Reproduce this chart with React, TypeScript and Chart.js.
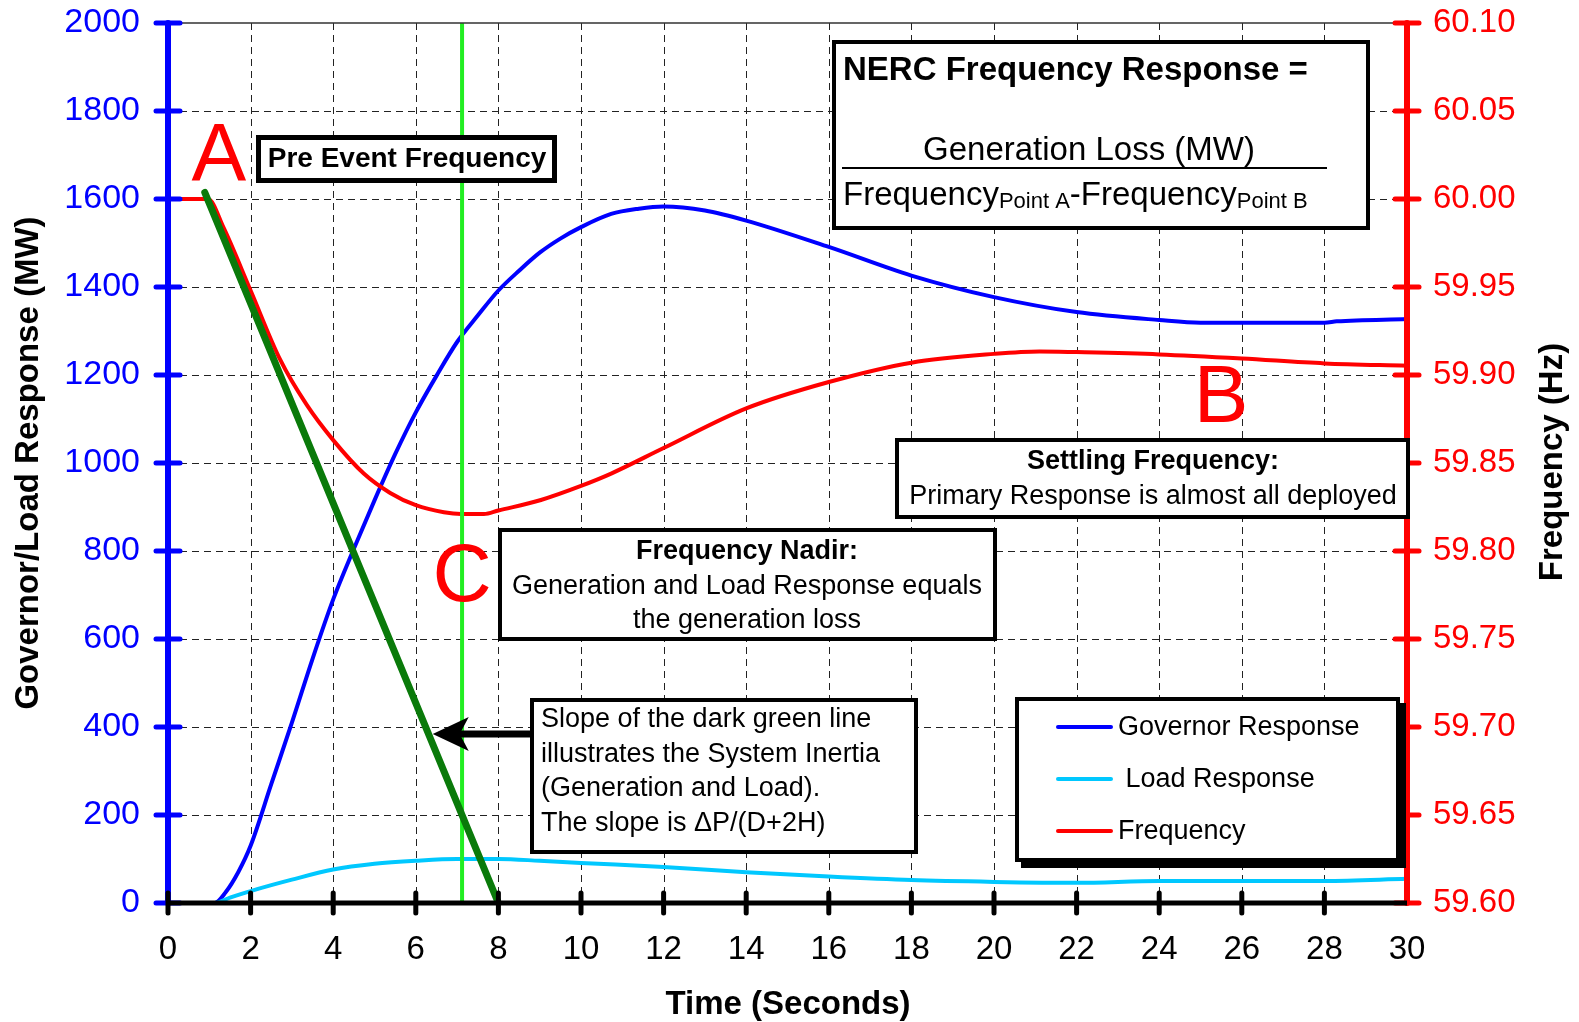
import React, { useEffect, useRef } from "react";
import { Chart, registerables } from "chart.js";
Chart.register(...registerables);

const FONT = "'Liberation Sans', Arial, Helvetica, sans-serif";

// ---- data ----
const govTime = [0, 1.13, 1.4, 1.7, 2.0, 2.5, 3.0, 3.5, 4.0, 4.5, 5.0, 5.5, 6.0, 6.5, 7.0, 7.5, 8.0, 8.5, 9.0, 9.5, 10.0, 10.73, 11.4, 12.0, 13.0, 14.0, 16.0, 18.0, 20.0, 22.0, 24.0, 25.0, 26.0, 28.0, 28.3, 30.0];
const govMW = [0, 0, 25, 70, 130, 270, 410, 555, 690, 805, 915, 1020, 1115, 1198, 1275, 1335, 1392, 1437, 1478, 1510, 1536, 1566, 1578, 1583, 1574, 1551, 1491, 1426, 1377, 1343, 1325, 1319, 1319, 1319, 1322, 1327];

const loadTime = [0, 1.13, 1.5, 2, 3, 4, 5, 6, 7, 8, 9, 10, 12, 14, 16, 18, 20, 22, 24, 26, 28, 30];
const loadMW = [0, 0, 12, 27, 53, 76, 89, 96, 100, 100, 96, 91, 82, 70, 60, 52, 48, 46, 50, 50, 50, 55];

const freqTime = [0, 0.97, 1.34, 2.0, 2.71, 3.36, 4.0, 4.74, 5.38, 6.0, 6.68, 7.1, 7.65, 8.0, 9.03, 10.0, 10.73, 12.0, 14.0, 16.0, 18.0, 20.0, 21.1, 22.0, 24.0, 26.0, 28.0, 30.0];
const freqHz = [60.0, 60.0, 59.984, 59.948, 59.909, 59.883, 59.863, 59.844, 59.833, 59.826, 59.822, 59.821, 59.821, 59.823, 59.829, 59.837, 59.844, 59.8585, 59.881, 59.896, 59.907, 59.912, 59.9134, 59.913, 59.9117, 59.9094, 59.9066, 59.9053];

const inertiaTime = [0.89, 8.0];
const inertiaMW = [1615, 0];

const eventTime = [7.12, 7.12];
const eventMW = [0, 2000];

const arrowTail = 8.79;
const arrowTip = 6.41;
const arrowLevel = 384;

const letterA = { t: 1.23, mw: 1643, s: "A" };
const letterB = { t: 25.5, mw: 1093, s: "B" };
const letterC = { t: 7.12, mw: 686, s: "C" };

const legendItems = [
  { label: "Governor Response", color: "#0000ff" },
  { label: " Load Response", color: "#00c8ff" },
  { label: "Frequency", color: "#ff0000" },
];

const pts = (xs: number[], ys: number[]) => xs.map((x, i) => ({ x, y: ys[i] }));

function font(size: number, bold = false) {
  return `${bold ? "bold " : ""}${size}px ${FONT}`;
}

function text(ctx: CanvasRenderingContext2D, s: string, x: number, y: number, size: number, opts: any = {}) {
  ctx.save();
  ctx.font = font(size, !!opts.bold);
  ctx.fillStyle = opts.color || "#000";
  ctx.textAlign = opts.align || "left";
  ctx.textBaseline = opts.baseline || "middle";
  ctx.fillText(s, x, y);
  ctx.restore();
}

function box(ctx: CanvasRenderingContext2D, x1: number, y1: number, x2: number, y2: number, lw: number, shadow = 0) {
  ctx.save();
  if (shadow) {
    ctx.fillStyle = "#000";
    ctx.fillRect(x1 + shadow, y1 + shadow, x2 - x1, y2 - y1);
  }
  ctx.fillStyle = "#fff";
  ctx.fillRect(x1, y1, x2 - x1, y2 - y1);
  ctx.strokeStyle = "#000";
  ctx.lineWidth = lw;
  ctx.strokeRect(x1 + lw / 2, y1 + lw / 2, x2 - x1 - lw, y2 - y1 - lw);
  ctx.restore();
}

const overlay = {
  id: "overlay",
  beforeDatasetsDraw(chart: any) {
    const { ctx, chartArea: a, scales } = chart;
    const xs = scales.x, ys = scales.y;
    ctx.save();
    ctx.strokeStyle = "#222";
    ctx.lineWidth = 1;
    ctx.setLineDash([7, 5]);
    xs.ticks.forEach((t: any) => {
      if (t.value <= xs.min || t.value >= xs.max) return;
      const px = Math.round(xs.getPixelForValue(t.value)) + 0.5;
      ctx.beginPath();
      ctx.moveTo(px, a.top);
      ctx.lineTo(px, a.bottom);
      ctx.stroke();
    });
    ys.ticks.forEach((t: any) => {
      if (t.value <= ys.min || t.value >= ys.max) return;
      const py = Math.round(ys.getPixelForValue(t.value)) + 0.5;
      ctx.beginPath();
      ctx.moveTo(a.left, py);
      ctx.lineTo(a.right, py);
      ctx.stroke();
    });
    ctx.restore();
  },
  afterDatasetsDraw(chart: any) {
    const { ctx, chartArea: a, scales } = chart;
    const xs = scales.x, ys = scales.y, y2 = scales.y2;
    ctx.save();
    ctx.lineCap = "round";
    // top border
    ctx.strokeStyle = "#333";
    ctx.lineWidth = 1.5;
    ctx.beginPath();
    ctx.moveTo(a.left, a.top);
    ctx.lineTo(a.right, a.top);
    ctx.stroke();
    // left axis
    ctx.strokeStyle = "#0000ff";
    ctx.lineWidth = 6;
    ctx.beginPath();
    ctx.moveTo(a.left, a.top);
    ctx.lineTo(a.left, a.bottom);
    ctx.stroke();
    ctx.lineWidth = 5;
    ys.ticks.forEach((t: any) => {
      const py = ys.getPixelForValue(t.value);
      ctx.beginPath();
      ctx.moveTo(a.left - 12, py);
      ctx.lineTo(a.left + 12, py);
      ctx.stroke();
    });
    // right axis
    ctx.strokeStyle = "#ff0000";
    ctx.lineWidth = 6;
    ctx.beginPath();
    ctx.moveTo(a.right, a.top);
    ctx.lineTo(a.right, a.bottom);
    ctx.stroke();
    ctx.lineWidth = 5;
    y2.ticks.forEach((t: any) => {
      const py = y2.getPixelForValue(t.value);
      ctx.beginPath();
      ctx.moveTo(a.right - 12, py);
      ctx.lineTo(a.right + 12, py);
      ctx.stroke();
    });
    // bottom axis
    ctx.strokeStyle = "#000";
    ctx.lineWidth = 5;
    ctx.lineCap = "butt";
    ctx.beginPath();
    ctx.moveTo(a.left, a.bottom);
    ctx.lineTo(a.right, a.bottom);
    ctx.stroke();
    ctx.lineCap = "round";
    ctx.lineWidth = 5;
    xs.ticks.forEach((t: any) => {
      const px = xs.getPixelForValue(t.value);
      if (t.value >= xs.max) return;
      ctx.beginPath();
      ctx.moveTo(px, a.bottom - 10);
      ctx.lineTo(px, a.bottom + 10);
      ctx.stroke();
    });
    ctx.restore();

    // arrow
    const ay = ys.getPixelForValue(arrowLevel);
    const tipX = xs.getPixelForValue(arrowTip);
    const tailX = xs.getPixelForValue(arrowTail);
    ctx.save();
    ctx.strokeStyle = "#000";
    ctx.fillStyle = "#000";
    ctx.lineWidth = 7;
    ctx.beginPath();
    ctx.moveTo(tipX + 25, ay);
    ctx.lineTo(tailX, ay);
    ctx.stroke();
    ctx.beginPath();
    ctx.moveTo(tipX, ay);
    ctx.lineTo(tipX + 36, ay - 17);
    ctx.lineTo(tipX + 27, ay);
    ctx.lineTo(tipX + 36, ay + 17);
    ctx.closePath();
    ctx.fill();
    ctx.restore();

    // boxes
    box(ctx, 256, 135, 557, 183, 5);
    text(ctx, "Pre Event Frequency", 407, 159, 28, { bold: true, align: "center" });

    box(ctx, 832, 40, 1370, 230, 4);
    text(ctx, "NERC Frequency Response =", 843, 71, 33, { bold: true });
    text(ctx, "Generation Loss (MW)", 1089, 151, 33, { align: "center" });
    ctx.save();
    ctx.strokeStyle = "#000";
    ctx.lineWidth = 2;
    ctx.beginPath();
    ctx.moveTo(842, 168);
    ctx.lineTo(1327, 168);
    ctx.stroke();
    ctx.restore();
    {
      let x = 843;
      const parts: [string, number, number][] = [
        ["Frequency", 33, 205],
        ["Point A", 22, 208],
        ["-Frequency", 33, 205],
        ["Point B", 22, 208],
      ];
      ctx.save();
      ctx.fillStyle = "#000";
      ctx.textBaseline = "alphabetic";
      ctx.textAlign = "left";
      for (const [s, sz, by] of parts) {
        ctx.font = font(sz);
        ctx.fillText(s, x, by);
        x += ctx.measureText(s).width;
      }
      ctx.restore();
    }

    box(ctx, 895, 438, 1410, 519, 4);
    text(ctx, "Settling Frequency:", 1153, 462, 27, { bold: true, align: "center" });
    text(ctx, "Primary Response is almost all deployed", 1153, 497, 27, { align: "center" });

    box(ctx, 498, 528, 997, 641, 4);
    text(ctx, "Frequency Nadir:", 747, 552, 27, { bold: true, align: "center" });
    text(ctx, "Generation and Load Response equals", 747, 587, 27, { align: "center" });
    text(ctx, "the generation loss", 747, 621, 27, { align: "center" });

    box(ctx, 530, 698, 918, 854, 4);
    const slopeLines = [
      "Slope of the dark green line",
      "illustrates the System Inertia",
      "(Generation and Load).",
      "The slope is \u0394P/(D+2H)",
    ];
    slopeLines.forEach((s, i) => text(ctx, s, 541, 720 + i * 34.5, 27));

    // legend
    box(ctx, 1015, 697, 1400, 862, 4, 6);
    legendItems.forEach((it, i) => {
      const ly = 727 + i * 52;
      ctx.save();
      ctx.strokeStyle = it.color;
      ctx.lineWidth = 4;
      ctx.lineCap = "round";
      ctx.beginPath();
      ctx.moveTo(1058, ly);
      ctx.lineTo(1111, ly);
      ctx.stroke();
      ctx.restore();
      text(ctx, it.label, 1118, ly + 1, 27);
    });

    // letters
    [letterA, letterB, letterC].forEach((L) => {
      text(ctx, L.s, xs.getPixelForValue(L.t), ys.getPixelForValue(L.mw), 82, {
        color: "#ff0000",
        align: "center",
        baseline: "alphabetic",
      });
    });

    // axis titles
    ctx.save();
    ctx.translate(29, 463);
    ctx.rotate(-Math.PI / 2);
    text(ctx, "Governor/Load Response (MW)", 0, 0, 33, { bold: true, align: "center" });
    ctx.restore();
    ctx.save();
    ctx.translate(1553, 462);
    ctx.rotate(-Math.PI / 2);
    text(ctx, "Frequency (Hz)", 0, 0, 33, { bold: true, align: "center" });
    ctx.restore();
    text(ctx, "Time (Seconds)", 788, 1005, 33, { bold: true, align: "center" });
  },
};

export default function App() {
  const ref = useRef<HTMLCanvasElement>(null);
  useEffect(() => {
    document.body.style.margin = "0";
    document.body.style.overflow = "hidden";
    const canvas = ref.current!;
    const chart = new Chart(canvas, {
      type: "line",
      data: {
        datasets: [
          {
            label: "Inertia",
            data: pts(inertiaTime, inertiaMW),
            borderColor: "#0a7a0a",
            borderWidth: 7,
            tension: 0,
            yAxisID: "y",
            borderCapStyle: "round",
          },
          {
            label: "Event",
            data: pts(eventTime, eventMW),
            borderColor: "#22ee22",
            borderWidth: 4,
            tension: 0,
            yAxisID: "y",
          },
          {
            label: "Frequency",
            data: pts(freqTime, freqHz),
            borderColor: "#ff0000",
            borderWidth: 4,
            cubicInterpolationMode: "monotone",
            yAxisID: "y2",
          },
          {
            label: "Load Response",
            data: pts(loadTime, loadMW),
            borderColor: "#00c8ff",
            borderWidth: 4,
            cubicInterpolationMode: "monotone",
            yAxisID: "y",
          },
          {
            label: "Governor Response",
            data: pts(govTime, govMW),
            borderColor: "#0000ff",
            borderWidth: 4,
            cubicInterpolationMode: "monotone",
            yAxisID: "y",
          },
        ] as any,
      },
      options: {
        responsive: false,
        animation: false,
        devicePixelRatio: 1,
        layout: { padding: 0 },
        elements: { point: { radius: 0 } },
        plugins: {
          legend: { display: false },
          tooltip: { enabled: false },
          title: { display: false },
        },
        scales: {
          x: {
            type: "linear",
            min: 0,
            max: 30,
            grid: { display: false, drawTicks: false },
            border: { display: false },
            ticks: {
              stepSize: 2,
              color: "#000",
              font: { family: FONT, size: 33 },
              padding: 27,
              maxRotation: 0,
              autoSkip: false,
              callback: (v: any) => String(v),
            },
            afterFit: (s: any) => {
              s.height = 119;
              s.paddingLeft = 0;
              s.paddingRight = 0;
            },
          },
          y: {
            type: "linear",
            position: "left",
            min: 0,
            max: 2000,
            grid: { display: false, drawTicks: false },
            border: { display: false },
            ticks: {
              stepSize: 200,
              color: "#0000ff",
              font: { family: FONT, size: 34 },
              padding: 28,
              callback: (v: any) => String(v),
            },
            afterFit: (s: any) => {
              s.width = 168;
              s.paddingTop = 23;
              s.paddingBottom = 0;
            },
          },
          y2: {
            type: "linear",
            position: "right",
            min: 59.6,
            max: 60.1,
            grid: { display: false, drawTicks: false },
            border: { display: false },
            ticks: {
              stepSize: 0.05,
              color: "#ff0000",
              font: { family: FONT, size: 33 },
              padding: 26,
              callback: (v: any) => Number(v).toFixed(2),
            },
            afterFit: (s: any) => {
              s.width = 172;
              s.paddingTop = 23;
              s.paddingBottom = 0;
            },
          },
        },
      } as any,
      plugins: [overlay],
    });
    return () => chart.destroy();
  }, []);
  return <canvas ref={ref} width={1579} height={1022} style={{ display: "block", width: 1579, height: 1022 }} />;
}
